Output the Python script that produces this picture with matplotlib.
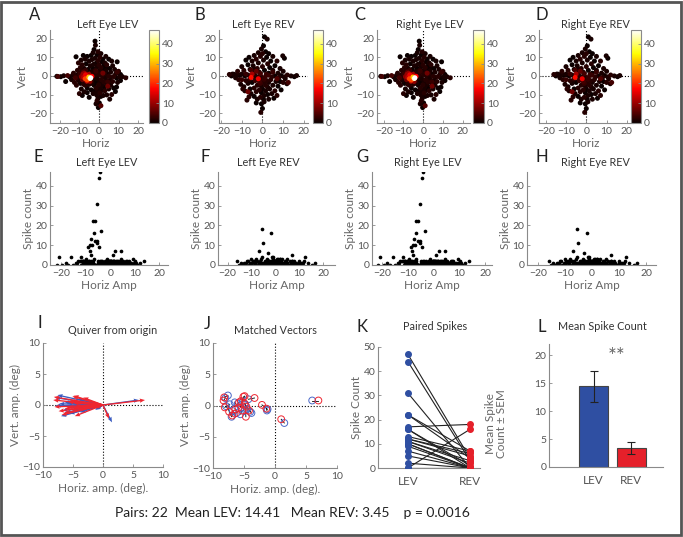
"""Saccade vector maps, spike counts and LEV/REV comparison (panels A-L)."""

import numpy as np
import matplotlib.pyplot as plt
from matplotlib.patches import Rectangle

plt.rcParams["font.family"] = ["Lato", "DejaVu Sans"]

# ---- data -----------------------------------------------------------------
# LEV saccades: horizontal amp, vertical amp, spike count
LEV_X = [-4.2, -4.5, -5.2, -7.0, -6.0, -6.8, -3.6, -7.8, -6.2, -5.4, -8.2, -9.0,
         -7.4, -5.2, -4.6, -8.4, -8.0, -16.0, -21.0, 1.0, 2.0, 4.5, 4.5, 9.3,
         -2.0, -1.8, -2.5, -0.5, -3.0, -1.0, 1.0, -4.0, 0.5, -2.0, 2.0, -3.5,
         -0.5, 1.5, 3.0, -1.5, 0.0, -2.8, 2.5, -1.0, 1.0, -3.2, 0.5, 2.0, -1.8,
         3.5, -0.5, 1.5, -2.5, 0.2, -0.8, 1.2, -2.0, 0.5, 2.5, -1.2, 1.8, -0.2,
         -2.5, 0.8, 2.8, -1.5, 0.2, 1.5, -0.8, -2.2, 0.5, -1.2, 1.0, -0.5, -1.0,
         0.2, -1.5, -0.3, -11.7, -9.1, -8.0, -10.5, -7.0, -6.0, -5.0, -8.5, -6.5,
         -4.5, -9.5, -7.5, -5.5, -11.0, -3.5, -8.8, -6.0, -10.0, -4.2, -21.5,
         -19.5, -18.0, -15.0, -13.5, -12.0, -11.0, -10.0, -17.0, -14.0, -12.5,
         -10.5, -11.5, -9.5, -8.0, -7.0, -9.0, -6.0, -5.0, -7.5, -4.0, -3.5, -10.0,
         -6.0, -3.0, -5.0, -3.8, -8.5, 3.5, 5.0, 6.5, 9.3, 4.0, 7.0, 5.5, 8.0, 3.8,
         10.0, 6.0, 4.5, 8.5, 11.0, 12.0, 13.7, 10.5, 9.0, 7.5, 6.0, 5.0, 3.0, 2.0,
         3.5, 5.5, 7.0, 9.5, 11.0, 4.0, 8.4, 6.0, 3.0, 7.5, 5.0, 9.0, 4.2, 2.2, 6.5,
         5.5, -2.0, -1.0, 1.5, -3.0, 2.8, -1.5, -13.0, -12.0, -9.5, -7.8, -6.8,
         -3.2, -2.2, -9.8, -11.2]
LEV_Y = [-1.0, -1.4, -0.6, -1.5, -2.2, 0.6, -0.2, -0.8, -2.8, -1.8, 0.9, -0.4,
         1.4, 0.9, -3.0, -2.0, 2.0, 0.2, -0.3, -16.0, 1.5, -5.5, -3.2, 2.0,
         18.7, 16.5, 14.2, 13.0, 12.5, 11.2, 12.0, 11.0, 10.0, 9.5, 9.0, 8.8,
         8.2, 7.5, 7.0, 6.8, 6.0, 6.2, 5.5, 5.0, 4.5, 4.2, 3.2, 3.5, 3.0,
         2.8, 2.0, 1.8, 1.5, 0.8, -1.5, -2.0, -2.5, -3.0, -3.2, -3.8, -4.5, -4.8,
         -5.0, -5.8, -6.0, -6.5, -7.2, -7.8, -8.5, -8.0, -9.2, -10.2, -11.0, -12.0,
         -13.4, -14.5, -15.0, -17.0, 10.3, 8.5, 11.0, 7.0, 9.0, 10.5, 8.0, 6.0,
         6.5, 5.5, 4.5, 4.0, 3.5, 3.0, 2.5, 2.5, 2.0, 1.5, 1.2, -0.2, -0.4, 0.1,
         -0.5, 0.3, -0.2, 0.5, -0.8, -3.0, -2.0, -3.5, -2.5, -5.0, -4.0, -3.5,
         -5.0, -7.0, -6.5, -4.5, -8.5, -7.5, -4.0, -9.5, -9.0, -9.5, -11.5, -2.8,
         -10.5, 10.5, 9.0, 8.0, 7.6, 6.0, 5.5, 4.0, 3.5, 4.5, 2.5, 2.0, 1.0, 1.0,
         0.8, -0.4, -1.0, -0.5, -1.2, -0.3, -0.8, -0.2, -0.5, -0.3, -2.0, -2.5,
         -3.0, -3.5, -2.5, -10.2, -8.4, -5.0, -8.0, -6.5, -7.0, -6.0, -4.0, -10.5,
         -10.0, -12.5, 0.5, -0.8, 0.2, -1.2, 1.2, 2.5, 1.5, -1.0, 0.2, -4.5, 3.0,
         0.8, -0.9, 1.0, -1.2]
LEV_N = [47, 44, 31, 22, 22, 16, 17, 13, 12, 12, 10, 9, 10, 11, 9, 7, 5, 4, 4,
         5, 7, 7, 3, 3,
         0, 1, 0, 2, 1, 0, 1, 0, 2, 1, 0, 1, 2, 0, 1, 0, 2, 1, 0, 1, 2, 0, 1, 0,
         2, 1, 0, 2, 1, 2, 1, 2, 0, 1, 2, 0, 1, 2, 0, 1, 0, 2, 1, 0, 1, 0, 2, 1,
         0, 1, 2, 0, 1, 0, 0, 1, 0, 2, 1, 0, 1, 2, 0, 1, 2, 1, 0, 2, 1, 2, 0, 1,
         2, 0, 0, 1, 0, 1, 2, 1, 2, 0, 1, 2, 1, 2, 0, 1, 2, 1, 0, 2, 1, 0, 1, 2,
         0, 1, 0, 2, 0, 1, 0, 1, 0, 2, 1, 0, 1, 0, 2, 1, 0, 1, 0, 1, 2, 1, 0, 2,
         1, 2, 1, 0, 1, 0, 2, 1, 0, 1, 0, 1, 2, 0, 1, 0, 0, 1, 2, 1, 2, 1, 2, 1,
         2, 3, 2, 4, 1, 2, 3, 2, 1, 3, 2]

# REV saccades
REV_X = [-5.5, -2.0, -5.0, -7.0, -3.0, 7.0, 12.5, -5.5, -8.0, -1.0, 2.0, -10.0,
         5.0,
         1.0, 2.3, 0.5, -0.5, 1.5, 0.0, -2.0, 3.0, -4.0, -1.0, 2.0, 5.0, -6.5,
         -3.0, 0.5, 4.0, -5.0, -8.0, 7.0, 9.8, 10.6, -2.0, 2.5, -7.0, -4.5, 6.0,
         0.0, -10.0, 3.5, 8.5, -2.5, -6.0, 1.0, 5.0, -9.0, 10.0, -1.5, 3.0, 7.5,
         -4.0, -16.0, -14.5, -13.8, -12.2, -11.0, -12.0, -10.0, -8.5, -15.0,
         -13.0, -11.5, -7.0, 13.8, 15.4, 12.0, 10.5, 9.0, 8.0, 11.0, 6.0, 4.5,
         -1.0, 1.0, 0.0, -2.5, 2.0, -1.5, 0.5, 3.0, -3.5, 1.5, -0.5, -2.5, 2.5,
         0.0, -1.5, 1.5, -0.5, 0.8, -1.0, 0.5, 0.8, -0.5, 0.0, -0.8, -9.0, -6.5,
         -7.0, -5.0, -8.0, -10.5, -4.0, -6.0, -8.5, -3.0, -5.5, -4.0, -2.5, -7.5,
         -3.0, 4.0, 6.5, 8.5, 10.0, 5.0, 7.5, 3.5, 6.0, 9.0, 4.5, 2.5, 7.0, 3.0,
         5.5, 16.5, -6.0, -3.5, -1.0, 1.8, -4.5, -2.0, 0.8, -3.8, -0.3, 2.8,
         -6.8, -9.5, 11.8]
REV_Y = [-0.8, -1.5, 1.0, -8.5, 2.5, -1.5, -3.5, 3.0, 1.0, -4.0, 0.5, -2.0,
         2.0,
         21.0, 19.8, 16.2, 14.5, 13.0, 12.0, 12.5, 12.0, 11.0, 10.5, 10.0, 10.5,
         10.0, 9.0, 8.5, 8.0, 8.0, 8.5, 8.0, 10.8, 9.5, 7.0, 6.5, 6.0, 5.5, 5.5,
         5.0, 5.0, 4.5, 4.0, 4.0, 3.5, 3.0, 3.0, 3.0, 2.5, 2.0, 1.5, 1.5, 1.5,
         0.8, 1.0, 0.9, 0.9, 0.3, 2.5, 1.0, 0.0, 0.0, -1.0, -2.0, 0.5, 0.0, -0.4,
         0.5, -0.5, 0.2, -0.8, -1.5, 0.0, -0.5, 0.0, -0.8, -2.0, -0.5, -2.5, -3.0,
         -3.5, -3.5, -2.5, -5.0, -5.5, -5.0, -6.0, -7.0, -7.5, -8.0, -9.0, -10.5,
         -11.5, -12.5, -13.9, -15.0, -17.5, -19.6, -5.8, -11.2, -4.0, -3.5, -2.5,
         -4.5, -6.5, -7.0, -8.0, -8.5, -9.5, -11.0, -12.5, -13.0, -14.5, -2.0,
         -3.0, -3.0, -3.5, -5.0, -5.5, -7.0, -8.0, -7.5, -9.5, -10.0, -10.5, -12.5,
         -12.0, 0.2, -1.5, 0.0, 1.2, 0.8, -0.6, -1.0, -1.8, 3.8, -1.2, 0.4,
         -2.8, -7.0, -4.2]
REV_N = [18, 16, 11, 7, 6, 5, 4, 4, 3, 3, 3, 3, 3,
         0, 1, 0, 1, 0, 2, 1, 0, 1, 2, 0, 1, 0, 2, 1, 0, 1, 0, 2, 1, 0, 1, 2, 0,
         1, 0, 2, 1, 0, 1, 2, 1, 0, 1, 2, 1, 2, 0, 1, 0, 2, 1, 0, 1, 0, 2, 1, 0,
         0, 1, 2, 1, 1, 0, 2, 1, 0, 2, 1, 0, 2, 1, 3, 2, 1, 2, 4, 2, 1, 3, 2, 1,
         2, 1, 0, 2, 1, 0, 1, 2, 0, 1, 0, 0, 2, 1, 2, 1, 0, 2, 1, 2, 0, 1, 2, 1,
         0, 1, 2, 0, 2, 1, 0, 2, 1, 0, 1, 2, 0, 1, 0, 2, 1, 0, 1, 3, 2, 4, 3, 2,
         2, 3, 1, 2, 3, 1, 2, 1]

# matched saccade vectors (deg), 22 pairs
VEC_LEV_X = [-8.0, -7.6, -7.3, -7.0, -6.8, -6.2, -6.0, -5.6, -5.5, -5.2, -5.0,
             -4.8, -4.5, -4.3, -4.0, -3.8, -1.2, -1.3, 1.5, 6.0, -7.9, -6.5]
VEC_LEV_Y = [1.2, 1.6, 0.2, -1.8, -0.9, -1.2, 0.3, -1.4, -0.3, 0.6, -0.9,
             0.2, -0.6, 1.0, -1.0, -1.2, -0.6, -0.8, -2.8, 0.8, -0.1, 0.5]
VEC_REV_X = [-8.3, -8.2, -8.1, -7.4, -6.5, -6.4, -5.8, -5.3, -5.1, -4.9, -5.5,
             -4.7, -4.6, -3.3, -4.2, -4.9, -2.1, -1.4, 1.0, 7.0, -6.9, -5.9]
VEC_REV_Y = [0.8, 1.3, -0.3, -1.0, -1.3, -0.6, 0.5, -0.8, 1.4, 1.5, 0.7,
             -1.8, -0.2, 1.2, -0.8, 0.3, 0.1, -0.5, -2.2, 0.8, -1.6, -0.4]

# paired spike counts
PAIR_LEV = [47, 44, 31, 22, 22, 17, 16, 16, 13, 12, 12, 11, 11, 10, 10, 9, 7,
            5, 2, 0, 0, 0]
PAIR_REV = [4, 3, 0, 7, 4, 18, 1, 0, 7, 6, 5, 3, 2, 0, 0, 0, 0, 0, 0, 16, 0, 0]
P_VALUE = "0.0016"

BLUE = "#2f4fa2"
RED = "#e5202a"
GRAY_TXT = "#555555"
SPINE = "#8a8a8a"

W, H = 683, 537
fig = plt.figure(figsize=(W / 100, H / 100), dpi=100)


def rect(l, t, r, b):
    return [l / W, 1 - b / H, (r - l) / W, (b - t) / H]


def ftext(px, py, s, **kw):
    fig.text(px / W, 1 - py / H, s, **kw)


def style(ax):
    for side in ("top", "right"):
        ax.spines[side].set_visible(False)
    for side in ("left", "bottom"):
        ax.spines[side].set_color(SPINE)
        ax.spines[side].set_linewidth(0.8)
    ax.tick_params(direction="in", length=2, width=0.6, color=SPINE,
                   labelsize=7.5, labelcolor=GRAY_TXT, pad=2)
    ax.tick_params(axis="x", pad=3)


def title(px, py, s):
    ftext(px, py, s, ha="center", va="center", fontsize=7.8, color="#333333")


# ---- row 1: vector maps coloured by spike count ----------------------------
top = [("Left Eye LEV", LEV_X, LEV_Y, LEV_N, (50, 143), (149, 159), (-25, 22.5), 108),
       ("Left Eye REV", REV_X, REV_Y, REV_N, (219, 308), (313, 323), (-21, 22), 263),
       ("Right Eye LEV", LEV_X, LEV_Y, LEV_N, (377, 470), (473, 484), (-23.4, 23.7), 430),
       ("Right Eye REV", REV_X, REV_Y, REV_N, (539, 633), (631, 641), (-23.3, 23), 595)]
for name, xs, ys, ns, (l, r), (cl, cr), xl, tx in top:
    ax = fig.add_axes(rect(l, 30, r, 123))
    style(ax)
    ax.axhline(0, color="k", ls=":", lw=0.8, zorder=1)
    ax.axvline(0, color="k", ls=":", lw=0.8, zorder=1)
    order = np.argsort(ns, kind="stable")
    sc = ax.scatter(np.array(xs)[order], np.array(ys)[order], c=np.array(ns)[order],
                    cmap="hot", vmin=0, vmax=47, s=13, linewidths=0, zorder=2)
    ax.set_xlim(*xl)
    ax.set_ylim(-25.3, 24.7)
    ax.set_xticks([-20, -10, 0, 10, 20])
    ax.set_yticks([-20, -10, 0, 10, 20])
    ax.set_xlabel("Horiz", fontsize=8.5, color="#666666", labelpad=1)
    ax.set_ylabel("Vert", fontsize=8.5, color="#666666", labelpad=1)
    cax = fig.add_axes(rect(cl, 30, cr, 123))
    cb = fig.colorbar(sc, cax=cax)
    cb.set_ticks([0, 10, 20, 30, 40])
    cb.outline.set_edgecolor(SPINE)
    cb.outline.set_linewidth(0.8)
    cax.tick_params(direction="in", length=2, width=0.6, color=SPINE,
                    labelsize=7.5, labelcolor=GRAY_TXT, pad=2)
    title(tx, 24, name)

# ---- row 2: spike count against horizontal amplitude -----------------------
mid = [("Left Eye LEV", LEV_X, LEV_N, (50, 168), (-24.5, 23.5), 107),
       ("Left Eye REV", REV_X, REV_N, (218, 335), (-24, 25), 268),
       ("Right Eye LEV", LEV_X, LEV_N, (372, 492), (-24, 22.6), 428),
       ("Right Eye REV", REV_X, REV_N, (527, 656), (-24, 23.6), 595)]
for name, xs, ns, (l, r), xl, tx in mid:
    ax = fig.add_axes(rect(l, 172, r, 265))
    style(ax)
    ax.scatter(xs, ns, color="k", s=7, linewidths=0, zorder=2)
    ax.set_xlim(*xl)
    ax.set_ylim(0, 47)
    ax.set_xticks([-20, -10, 0, 10, 20])
    ax.set_yticks([0, 10, 20, 30, 40])
    ax.set_xlabel("Horiz Amp", fontsize=8.5, color="#666666", labelpad=1)
    ax.set_ylabel("Spike count", fontsize=8.5, color="#666666", labelpad=1)
    title(tx, 163, name)

# ---- row 3 -----------------------------------------------------------------
# I: quiver from origin
ax = fig.add_axes(rect(43, 343, 163, 467))
style(ax)
ax.axhline(0, color="k", ls=":", lw=0.8, zorder=1)
ax.axvline(0, color="k", ls=":", lw=0.8, zorder=1)
zeros = np.zeros(len(VEC_LEV_X))
ax.quiver(zeros, zeros, VEC_LEV_X, VEC_LEV_Y, color="#3a5bc0", angles="xy",
          scale_units="xy", scale=1, width=0.011, headwidth=3.2,
          headlength=4, headaxislength=3.6, zorder=2)
ax.quiver(zeros, zeros, VEC_REV_X, VEC_REV_Y, color="#ee2630", angles="xy",
          scale_units="xy", scale=1, width=0.011, headwidth=3.2,
          headlength=4, headaxislength=3.6, zorder=3)
ax.set_xlim(-10, 10)
ax.set_ylim(-10, 10)
ax.set_xticks([-10, -5, 0, 5, 10])
ax.set_yticks([-10, -5, 0, 5, 10])
ax.set_xlabel("Horiz. amp. (deg).", fontsize=8.5, color="#666666", labelpad=2)
ax.set_ylabel("Vert. amp. (deg)", fontsize=8.5, color="#666666", labelpad=1)
title(113, 330, "Quiver from origin")

# J: matched vectors
ax = fig.add_axes(rect(213, 343, 337, 468))
style(ax)
ax.axhline(0, color="k", ls=":", lw=0.8, zorder=1)
ax.axvline(0, color="k", ls=":", lw=0.8, zorder=1)
for lx, ly, rx, ry in zip(VEC_LEV_X, VEC_LEV_Y, VEC_REV_X, VEC_REV_Y):
    ax.plot([lx, rx], [ly, ry], color="k", lw=0.6, zorder=2)
ax.scatter(VEC_LEV_X, VEC_LEV_Y, s=24, facecolors="none", edgecolors="#4a68c8",
           linewidths=0.7, zorder=3)
ax.scatter(VEC_REV_X, VEC_REV_Y, s=24, facecolors="none", edgecolors="#ee2630",
           linewidths=0.7, zorder=3)
ax.set_xlim(-10, 10)
ax.set_ylim(-10, 10)
ax.set_xticks([-10, -5, 0, 5, 10])
ax.set_yticks([-10, -5, 0, 5, 10])
ax.set_xlabel("Horiz. amp. (deg).", fontsize=8.5, color="#666666", labelpad=2)
ax.set_ylabel("Vert. amp. (deg)", fontsize=8.5, color="#666666", labelpad=1)
title(275, 330, "Matched Vectors")

# K: paired spikes
ax = fig.add_axes(rect(378, 347, 480, 468))
style(ax)
for a, b in zip(PAIR_LEV, PAIR_REV):
    ax.plot([1, 2], [a, b], color="#222222", lw=0.8, zorder=2)
ax.scatter(np.ones(len(PAIR_LEV)), PAIR_LEV, color=BLUE, s=16, zorder=3)
ax.scatter(np.full(len(PAIR_REV), 2), PAIR_REV, color=RED, s=16, zorder=3)
ax.set_xlim(0.52, 2.16)
ax.set_ylim(0, 50)
ax.set_xticks([1, 2])
ax.set_xticklabels(["LEV", "REV"])
ax.set_yticks([0, 10, 20, 30, 40, 50])
ax.tick_params(axis="x", length=0, pad=6, labelsize=8.5)
ax.set_ylabel("Spike Count", fontsize=8.5, color="#666666", labelpad=1)
title(435, 327, "Paired Spikes")

# L: mean spike count +/- SEM
means = [np.mean(PAIR_LEV), np.mean(PAIR_REV)]
sems = [np.std(PAIR_LEV, ddof=1) / np.sqrt(len(PAIR_LEV)),
        np.std(PAIR_REV, ddof=1) / np.sqrt(len(PAIR_REV))]
ax = fig.add_axes(rect(549, 344, 663, 467))
style(ax)
ax.bar([1, 2], means, width=0.78, color=[BLUE, RED], edgecolor="#444444",
       linewidth=0.8, yerr=sems, capsize=3,
       error_kw={"elinewidth": 0.8, "capthick": 0.8, "ecolor": "#222222"}, zorder=2)
ax.text(1.62, 19.6, "**", ha="center", va="center", fontsize=15, color="#666666")
ax.set_xlim(-0.19, 2.85)
ax.set_ylim(0, 22)
ax.set_xticks([1, 2])
ax.set_xticklabels(["LEV", "REV"])
ax.set_yticks([0, 5, 10, 15, 20])
ax.tick_params(axis="x", length=0, pad=6, labelsize=8.5)
ftext(496, 424, "Mean Spike\nCount \u00b1 SEM", ha="center", va="center", rotation=90,
      fontsize=8.5, color="#666666", linespacing=1.1)
title(602, 327, "Mean Spike Count")

# panel letters
for s, px, py in [("A", 35, 15), ("B", 200, 15), ("C", 360, 15), ("D", 542, 15),
                  ("E", 38, 157), ("F", 205, 157), ("G", 362, 157), ("H", 542, 157),
                  ("I", 40, 323), ("J", 207, 324), ("K", 362, 327), ("L", 542, 327)]:
    ftext(px, py, s, ha="center", va="center", fontsize=12, color="#222222")

ftext(292, 513, f"Pairs: {len(PAIR_LEV)}  Mean LEV: {means[0]:.2f}   "
      f"Mean REV: {means[1]:.2f}    p = {P_VALUE}",
      ha="center", va="center", fontsize=10, color="#222222")

fig.add_artist(Rectangle((0.002, 0.003), 0.995, 0.994, transform=fig.transFigure,
                         fill=False, edgecolor="#555555", linewidth=2))

fig.savefig("out.png", dpi=100)
